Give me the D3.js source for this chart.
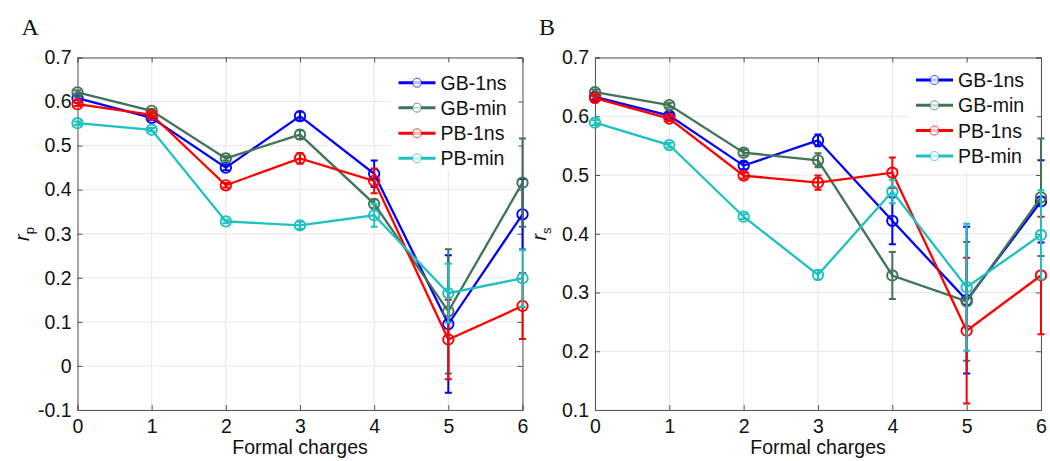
<!DOCTYPE html>
<html>
<head>
<meta charset="utf-8">
<script src="https://cdnjs.cloudflare.com/ajax/libs/d3/7.8.5/d3.min.js"></script>
<style>
  body { margin: 0; background: #fff; }
  svg { display: block; }
  text { font-family: "Liberation Sans", Arial, sans-serif; fill: #111; }
</style>
</head>
<body>
<div class="chart"></div>
<script>
var charges = [0, 1, 2, 3, 4, 5, 6];
var seriesNames = ["GB-1ns", "GB-min", "PB-1ns", "PB-min"];
var seriesColors = ["#0000ff", "#3f7455", "#ff0000", "#1fc0c0"];

// panel A, r_p
var gb1nsP = [0.608, 0.563, 0.450, 0.567, 0.436, 0.095, 0.344];
var gbminP = [0.621, 0.579, 0.471, 0.525, 0.368, 0.124, 0.416];
var pb1nsP = [0.594, 0.570, 0.410, 0.471, 0.420, 0.060, 0.136];
var pbminP = [0.551, 0.536, 0.328, 0.319, 0.342, 0.165, 0.199];
var gb1nsPErr = [0.004, 0.004, 0.006, 0.010, 0.030, 0.156, 0.080];
var gbminPErr = [0.004, 0.004, 0.005, 0.010, 0.010, 0.141, 0.100];
var pb1nsPErr = [0.004, 0.005, 0.005, 0.012, 0.028, 0.090, 0.075];
var pbminPErr = [0.004, 0.004, 0.004, 0.008, 0.026, 0.067, 0.065];
var yTicksP = [-0.1, 0, 0.1, 0.2, 0.3, 0.4, 0.5, 0.6, 0.7];

// panel B, r_s
var gb1nsS = [0.633, 0.601, 0.516, 0.559, 0.422, 0.287, 0.455];
var gbminS = [0.641, 0.619, 0.538, 0.525, 0.329, 0.285, 0.462];
var pb1nsS = [0.631, 0.596, 0.499, 0.487, 0.504, 0.235, 0.329];
var pbminS = [0.589, 0.551, 0.429, 0.330, 0.472, 0.309, 0.398];
var gb1nsSErr = [0.004, 0.005, 0.006, 0.010, 0.040, 0.125, 0.070];
var gbminSErr = [0.004, 0.004, 0.005, 0.012, 0.040, 0.101, 0.100];
var pb1nsSErr = [0.004, 0.004, 0.005, 0.012, 0.026, 0.124, 0.100];
var pbminSErr = [0.004, 0.004, 0.004, 0.008, 0.020, 0.108, 0.076];
var yTicksS = [0.1, 0.2, 0.3, 0.4, 0.5, 0.6, 0.7];

var width = 1050,
    height = 461,
    fontSize = "19.5px";

var svg = d3.select(".chart").append("svg")
    .attr("width", width)
    .attr("height", height);

function drawPanel(p) {
    var x = d3.scaleLinear().domain([0, 6]).range([p.left, p.right]),
        y = d3.scaleLinear().domain(p.yDomain).range([410, 57.5]);
    var g = svg.append("g");

    // grid
    g.selectAll(".gx").data(charges).enter().append("line")
        .attr("x1", function(d) { return x(d); })
        .attr("x2", function(d) { return x(d); })
        .attr("y1", y.range()[0]).attr("y2", y.range()[1])
        .style("stroke", "#e6e6e6").style("stroke-width", 1);
    g.selectAll(".gy").data(p.yTicks).enter().append("line")
        .attr("x1", p.left).attr("x2", p.right)
        .attr("y1", function(d) { return y(d); })
        .attr("y2", function(d) { return y(d); })
        .style("stroke", "#e6e6e6").style("stroke-width", 1);

    // axes, ticks inward on all 4 sides
    var fmt = function(d) { return d3.format(".1f")(d).replace("−", "-").replace(/^-?0\.0$/, "0"); };
    var xb = g.append("g").attr("transform", "translate(0,410)")
        .call(d3.axisBottom(x).tickValues(charges).tickSize(-5).tickPadding(9).tickFormat(d3.format("d")));
    var xt = g.append("g").attr("transform", "translate(0,57.5)")
        .call(d3.axisTop(x).tickValues(charges).tickSize(-5).tickFormat(""));
    var yl = g.append("g").attr("transform", "translate(" + p.left + ",0)")
        .call(d3.axisLeft(y).tickValues(p.yTicks).tickSize(-5).tickPadding(6).tickFormat(fmt));
    var yr = g.append("g").attr("transform", "translate(" + p.right + ",0)")
        .call(d3.axisRight(y).tickValues(p.yTicks).tickSize(-5).tickFormat(""));
    [xb, xt, yl, yr].forEach(function(a) {
        a.select(".domain").style("stroke", "#555");
        a.selectAll(".tick line").style("stroke", "#555");
        a.selectAll("text").style("font-size", fontSize).style("font-family", "'Liberation Sans', Arial, sans-serif").attr("fill", "#111");
    });

    // legend background (drawn before data, like matlab's white box)
    g.append("rect")
        .attr("x", p.legX - 8).attr("y", 63)
        .attr("width", p.right - p.legX + 4).attr("height", 108)
        .style("fill", "#fff");

    // series
    var line = d3.line()
        .x(function(d) { return x(d.c); })
        .y(function(d) { return y(d.v); });
    p.series.forEach(function(s, k) {
        var pts = charges.map(function(c, i) { return {c: c, v: s[i], e: p.errs[k][i]}; });
        var color = seriesColors[k];
        var sg = g.append("g");
        sg.append("path").datum(pts)
            .attr("d", line)
            .style("fill", "none").style("stroke", color).style("stroke-width", 2.3);
        sg.selectAll(".eb").data(pts).enter().append("path")
            .attr("d", function(d) {
                var cx = x(d.c), y0 = y(d.v - d.e), y1 = y(d.v + d.e);
                return "M" + cx + "," + y0 + "V" + y1 +
                    "M" + (cx - 3.5) + "," + y0 + "H" + (cx + 3.5) +
                    "M" + (cx - 3.5) + "," + y1 + "H" + (cx + 3.5);
            })
            .style("fill", "none").style("stroke", color).style("stroke-width", 2);
        sg.selectAll(".mk").data(pts).enter().append("circle")
            .attr("cx", function(d) { return x(d.c); })
            .attr("cy", function(d) { return y(d.v); })
            .attr("r", 5.2)
            .style("fill", "none").style("stroke", color).style("stroke-width", 1.9);
    });

    // legend
    seriesNames.forEach(function(name, k) {
        var ly = p.legY[k];
        g.append("line")
            .attr("x1", p.legX).attr("x2", p.legX + 37)
            .attr("y1", ly).attr("y2", ly)
            .style("stroke", seriesColors[k]).style("stroke-width", 3);
        g.append("circle")
            .attr("cx", p.legX + 18.5).attr("cy", ly).attr("r", 4.5)
            .style("fill", "#fff").style("stroke", seriesColors[k])
            .style("stroke-width", 1).style("opacity", 0.75);
        g.append("text")
            .attr("x", p.legX + 42).attr("y", ly + 7)
            .style("font-size", fontSize)
            .text(name);
    });

    // labels
    svg.append("text")
        .attr("x", p.left - 56).attr("y", 35)
        .style("font-family", "'Liberation Serif', 'Times New Roman', serif")
        .style("font-size", "24px")
        .text(p.letter);

    svg.append("text")
        .attr("x", (p.left + p.right) / 2).attr("y", 453.5)
        .attr("text-anchor", "middle")
        .style("font-size", fontSize)
        .text("Formal charges");

    var yt = svg.append("text")
        .attr("transform", "translate(" + (p.left - 49) + ",234) rotate(-90)")
        .attr("text-anchor", "middle")
        .style("font-size", "20px");
    yt.append("tspan").style("font-style", "italic").text("r");
    yt.append("tspan").attr("dy", 5).style("font-size", "13px").text(p.sub);
}

drawPanel({
    letter: "A", sub: "p",
    left: 77.5, right: 522.5,
    yDomain: [-0.1, 0.7], yTicks: yTicksP,
    series: [gb1nsP, gbminP, pb1nsP, pbminP],
    errs: [gb1nsPErr, gbminPErr, pb1nsPErr, pbminPErr],
    legX: 398.5, legY: [82.7, 107.7, 133.3, 158.3]
});

drawPanel({
    letter: "B", sub: "s",
    left: 595, right: 1041,
    yDomain: [0.1, 0.7], yTicks: yTicksS,
    series: [gb1nsS, gbminS, pb1nsS, pbminS],
    errs: [gb1nsSErr, gbminSErr, pb1nsSErr, pbminSErr],
    legX: 916, legY: [80, 105.3, 130.5, 156]
});
</script>
</body>
</html>
